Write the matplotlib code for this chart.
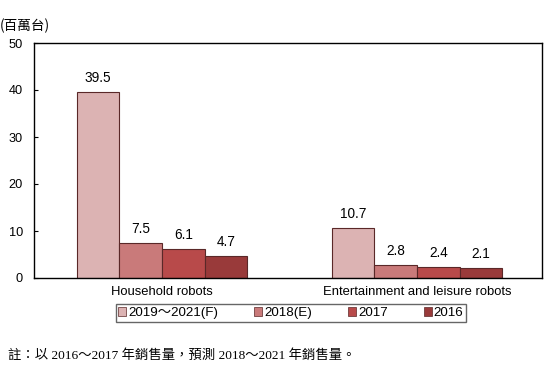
import matplotlib
matplotlib.use("Agg")
import numpy as np
from matplotlib import pyplot as plt

# data
categories = ["Household robots", "Entertainment and leisure robots"]
series = ["2019～2021(F)", "2018(E)", "2017", "2016"]
v_forecast = [39.5, 10.7]
v_2018 = [7.5, 2.8]
v_2017 = [6.1, 2.4]
v_2016 = [4.7, 2.1]
values = [v_forecast, v_2018, v_2017, v_2016]
colors = ["#dcb3b3", "#c97a7a", "#b84a4a", "#993a3a"]

plt.rcParams['font.family'] = ['Liberation Sans', 'Noto Sans CJK TC']

fig = plt.figure(figsize=(5.5, 3.78), dpi=100)
ax = fig.add_axes([34/550, 1 - 278/378, 508/550, 235/378])

x = np.arange(len(categories))
w = 0.167
for i, (vals, c, lab) in enumerate(zip(values, colors, series)):
    pos = x + (i - 1.5) * w
    bars = ax.bar(pos, vals, w, color=c, edgecolor="#5a2828", linewidth=0.8, label=lab)
    for b, v in zip(bars, vals):
        ax.annotate(f"{v:.1f}", (b.get_x() + b.get_width()/2, v), xytext=(0, 5),
                    textcoords="offset points", ha="center", va="bottom", fontsize=9.8)

ax.set_xlim(-0.502, 1.49)
ax.set_ylim(0, 50)
ax.set_yticks([0, 10, 20, 30, 40, 50])
ax.set_xticks(x)
ax.set_xticklabels(categories, fontsize=9.4)
ax.tick_params(axis="x", length=0, pad=6)
ax.tick_params(axis="y", direction="in", length=3, labelsize=9.2, pad=8)
for s in ax.spines.values():
    s.set_linewidth(1.0)
    s.set_color("black")

leg = fig.legend(loc="center", bbox_to_anchor=(291/550, 1 - 313/378), ncol=4,
                 fontsize=9.6, frameon=True, fancybox=False, edgecolor="#404040",
                 handlelength=0.6, handleheight=0.6, handletextpad=0.15,
                 columnspacing=2.7, borderpad=0.2, borderaxespad=0)
leg.get_frame().set_linewidth(1.0)
for h in leg.legend_handles:
    h.set_linewidth(0.5)

fig.text(0, 1 - 26/378, "(百萬台)", fontsize=9.8, ha="left", va="center",
         family=['Noto Sans CJK TC'])
fig.text(8/550, 1 - 355/378, "註：以 2016～2017 年銷售量，預測 2018～2021 年銷售量。",
         fontsize=9.6, ha="left", va="center",
         family=['Liberation Serif', 'Noto Sans CJK TC'])

fig.savefig("out.png", dpi=100, facecolor="white")
